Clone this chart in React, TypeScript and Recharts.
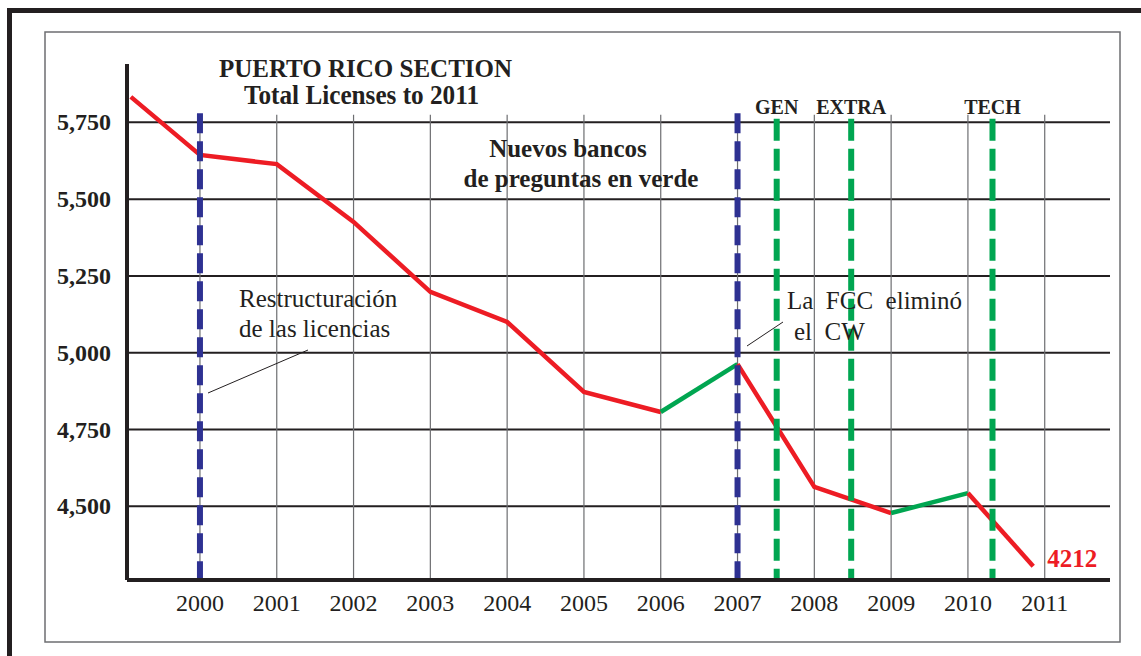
import React from "react";
import { LineChart, Line, XAxis, YAxis, ReferenceLine } from "recharts";

// readings (last one is drawn above its printed value)
const years = [1999.1, 2000, 2001, 2002, 2003, 2004, 2005, 2006, 2007, 2008, 2009, 2010, 2010.85];
const licenses = [5833, 5644, 5614, 5426, 5198, 5100, 4872, 4807, 4963, 4563, 4478, 4543, 4305];
// colour of each stretch between two readings, "g" = after new question pools
const stretchColors = ["r", "r", "r", "r", "r", "r", "r", "g", "r", "r", "g", "r"];
const finalCount = "4212";

const yearTicks = [2000, 2001, 2002, 2003, 2004, 2005, 2006, 2007, 2008, 2009, 2010, 2011];
const licenseTicks = [4500, 4750, 5000, 5250, 5500, 5750];

const restructureYears = [2000, 2007];
const poolNames = ["GEN", "EXTRA", "TECH"];
const poolYears = [2007.51, 2008.48, 2010.32];

const RED = "#ed1c24";
const GREEN = "#00a651";
const BLUE = "#2e3192";
const INK = "#231f20";
const FONT = '"Liberation Serif", "Times New Roman", serif';

const X_DOMAIN: [number, number] = [1999.05, 2011.85];
const Y_DOMAIN: [number, number] = [4260, 5940];

type Pt = { year: number; value: number };
type Segment = { color: string; points: Pt[] };

const segments: Segment[] = [];
stretchColors.forEach((c, i) => {
  let cur = segments[segments.length - 1];
  if (!cur || cur.color !== c) {
    cur = { color: c, points: [{ year: years[i], value: licenses[i] }] };
    segments.push(cur);
  }
  cur.points.push({ year: years[i + 1], value: licenses[i + 1] });
});

const XTick = (props: any) => {
  const { x, y, payload } = props;
  return (
    <text x={x} y={y + 23} textAnchor="middle" fontFamily={FONT} fontSize={24} fill={INK}>
      {payload.value}
    </text>
  );
};

const YTick = (props: any) => {
  const { x, y, payload } = props;
  return (
    <text x={x - 8} y={y + 8} textAnchor="end" fontFamily={FONT} fontSize={24} fontWeight="bold" fill={INK}>
      {payload.value.toLocaleString("en-US")}
    </text>
  );
};

const lastSeg = segments[segments.length - 1];

const finalLabel = (props: any) => {
  if (props.index !== lastSeg.points.length - 1) return <g />;
  return (
    <text x={props.x + 14} y={props.y + 1} fontFamily={FONT} fontSize={25} fontWeight="bold" fill={RED}>
      {finalCount}
    </text>
  );
};

const poolLabel = (name: string) => (props: any) => {
  const vb = props.viewBox || {};
  return (
    <text x={vb.x} y={(vb.y ?? 120) - 5} textAnchor="middle" fontFamily={FONT} fontSize={20} fontWeight="bold" fill={INK}>
      {name}
    </text>
  );
};

export default function App() {
  return (
    <div style={{ position: "absolute", left: 0, top: 0, width: 1141, height: 656, background: "#fff" }}>
      <LineChart
        width={1141}
        height={656}
        margin={{ top: 64, right: 31, bottom: 36, left: 47 }}
      >
        <XAxis
          dataKey="year"
          type="number"
          domain={X_DOMAIN}
          allowDataOverflow
          ticks={yearTicks}
          tick={<XTick />}
          tickLine={false}
          axisLine={{ stroke: INK, strokeWidth: 4 }}
          height={40}
        />
        <YAxis
          type="number"
          domain={Y_DOMAIN}
          allowDataOverflow
          ticks={licenseTicks}
          tick={<YTick />}
          tickLine={false}
          axisLine={{ stroke: INK, strokeWidth: 4 }}
          width={80}
        />
        {licenseTicks.map((v) => (
          <ReferenceLine key={"h" + v} y={v} stroke={INK} strokeWidth={2} />
        ))}
        {yearTicks.map((yr) => (
          <ReferenceLine
            key={"g" + yr}
            segment={[{ x: yr, y: 5775 }, { x: yr, y: Y_DOMAIN[0] }]}
            stroke="#6d6e71"
            strokeWidth={1.2}
          />
        ))}
        {segments.map((s, i) => (
          <Line
            key={"s" + i}
            data={s.points}
            dataKey="value"
            type="linear"
            stroke={s.color === "g" ? GREEN : RED}
            strokeWidth={4.5}
            dot={false}
            activeDot={false}
            isAnimationActive={false}
            label={i === segments.length - 1 ? finalLabel : undefined}
          />
        ))}
        {restructureYears.map((yr) => (
          <ReferenceLine
            key={"b" + yr}
            segment={[{ x: yr, y: 5780 }, { x: yr, y: Y_DOMAIN[0] }]}
            stroke={BLUE}
            strokeWidth={6}
            strokeDasharray="20 8"
          />
        ))}
        {poolYears.map((yr, i) => (
          <ReferenceLine
            key={"p" + yr}
            segment={[{ x: yr, y: 5762 }, { x: yr, y: Y_DOMAIN[0] }]}
            stroke={GREEN}
            strokeWidth={6}
            strokeDasharray="22 8"
            label={poolLabel(poolNames[i])}
          />
        ))}
      </LineChart>
      <svg
        width={1141}
        height={656}
        style={{ position: "absolute", left: 0, top: 0, pointerEvents: "none" }}
        fontFamily={FONT}
        fill={INK}
      >
        <rect x={7} y={8} width={1134} height={5} fill={INK} />
        <rect x={7} y={8} width={5} height={648} fill={INK} />
        <rect x={45} y={32} width={1075} height={610} fill="none" stroke="#6d6e71" strokeWidth={1.5} />
        <text x={365.5} y={77} textAnchor="middle" fontSize={25} fontWeight="bold">PUERTO RICO SECTION</text>
        <text x={361.5} y={104} textAnchor="middle" fontSize={27} fontWeight="bold" textLength={235} lengthAdjust="spacingAndGlyphs">
          Total Licenses to 2011
        </text>
        <text x={568} y={157} textAnchor="middle" fontSize={25} fontWeight="bold">Nuevos bancos</text>
        <text x={581} y={187} textAnchor="middle" fontSize={25} fontWeight="bold">de preguntas en verde</text>
        <text x={239} y={307} fontSize={25}>Restructuración</text>
        <text x={239} y={337} fontSize={25}>de las licencias</text>
        <line x1={208} y1={393} x2={308} y2={350} stroke={INK} strokeWidth={1} />
        <text x={787} y={309} fontSize={25} style={{ whiteSpace: "pre" }}>{"La  FCC  eliminó"}</text>
        <text x={794} y={340} fontSize={25} style={{ whiteSpace: "pre" }}>{"el  CW"}</text>
        <line x1={747} y1={346} x2={783} y2={322} stroke={INK} strokeWidth={1} />
      </svg>
    </div>
  );
}
